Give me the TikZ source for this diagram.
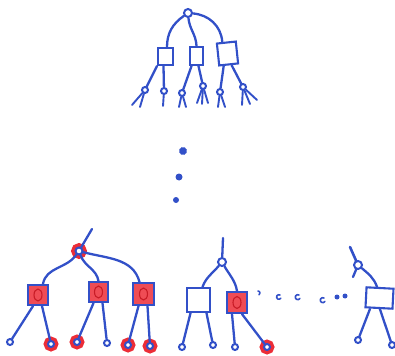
\documentclass[tikz,border=0pt]{standalone}
\usetikzlibrary{calc}
\definecolor{pen}{RGB}{50,80,200}
\definecolor{ink}{RGB}{236,45,55}
\definecolor{inkdark}{RGB}{200,28,38}
\tikzset{
  stroke/.style={draw=pen, line width=2.3pt, line cap=round, line join=round},
  hub/.style={circle, draw=pen, line width=2pt, minimum size=8pt, inner sep=0pt, fill=white},
  leaf/.style={circle, draw=pen, line width=2pt, minimum size=6pt, inner sep=0pt, fill=white},
  redleaf/.style={leaf, fill=white, preaction={fill=ink, draw=ink, line width=8.5pt}},
  redhub/.style={hub, minimum size=7pt, preaction={fill=ink, draw=ink, line width=8.5pt}},
  nodebox/.style={rectangle, draw=pen, line width=2.1pt, inner sep=0pt, fill=white},
  redbox/.style={nodebox, fill=ink!85},
  scribble/.style={draw=inkdark, line width=1.1pt},
  dot/.style={circle, fill=pen, inner sep=0pt, minimum size=6pt},
}
\begin{document}
\begin{tikzpicture}[x=1pt, y=-1pt]
\useasboundingbox (0,0) rectangle (395,355);

% ---------- upper tree ----------
\node[hub] (r) at (188,13) {};
\node[nodebox, minimum width=15pt, minimum height=17pt] (b1) at (165.5,56.5) {};
\node[nodebox, minimum width=13pt, minimum height=18pt] (b2) at (196.5,56) {};
\node[nodebox, minimum width=19pt, minimum height=22pt, rotate=6] (b3) at (227.5,53.5) {};

\draw[stroke] (r) to[out=215, in=90] ([xshift=1.5pt]b1.north);
\draw[stroke] (r) to[out=-85, in=92] (b2.north);
\draw[stroke] (r) to[out=-5, in=95] ([xshift=-4pt]b3.north);

\node[leaf] (l1) at (145,90) {};
\node[leaf] (l2) at (164,91) {};
\node[leaf] (l3) at (182,93) {};
\node[leaf] (l4) at (203,86) {};
\node[leaf] (l5) at (220,92) {};
\node[leaf] (l6) at (243,87) {};

\draw[stroke] (b1.south west) -- (l1);
\draw[stroke] ([xshift=-2pt]b1.south) -- (l2);
\draw[stroke] ([xshift=-5pt]b2.south) -- (l3);
\draw[stroke] ([xshift=2pt]b2.south) -- (l4);
\draw[stroke] ([xshift=-5pt]b3.south) -- (l5);
\draw[stroke] ([xshift=3pt]b3.south) -- (l6);

% fanned ends below the upper leaves
\coordinate (f1a) at (132,105); \coordinate (f1b) at (140,107);
\coordinate (f2a) at (163,106);
\coordinate (f3a) at (179,107); \coordinate (f3b) at (186,107);
\coordinate (f4a) at (197,103); \coordinate (f4b) at (202,104); \coordinate (f4c) at (208,103);
\coordinate (f5a) at (218,107); \coordinate (f5b) at (225,107);
\coordinate (f6a) at (242,105); \coordinate (f6b) at (250,104); \coordinate (f6c) at (257,100);
\foreach \a/\b in {l1/f1a, l1/f1b, l2/f2a, l3/f3a, l3/f3b, l4/f4a, l4/f4b, l4/f4c,
                   l5/f5a, l5/f5b, l6/f6a, l6/f6b, l6/f6c}
  \draw[stroke, line width=1.9pt] (\a) -- (\b);

% ---------- vertical ellipsis ----------
\node[dot, minimum width=6pt, minimum height=8pt, rotate=20] (v1) at (183,151) {};
\node[dot, minimum width=6pt, minimum height=7pt] (v2) at (179,177) {};
\node[dot] (v3) at (176,200) {};

% ---------- lower left tree ----------
\node[redhub] (s) at (79,251) {};
\coordinate (st) at (92,229);
\draw[stroke] (s) -- (st);

\node[redbox, minimum width=20pt, minimum height=20pt] (c1) at (38,295) {};
\node[redbox, minimum width=19pt, minimum height=20pt] (c2) at (98.5,292) {};
\node[redbox, minimum width=21pt, minimum height=22pt] (c3) at (143.5,294) {};
\foreach \c in {c1, c2, c3}
  \draw[scribble] (\c.center) ellipse [x radius=4pt, y radius=6pt];

\draw[stroke] (s) to[out=235, in=80] ([xshift=5pt]c1.north);
\draw[stroke] (s) to[out=-70, in=100] (c2.north);
\draw[stroke] (s) to[out=-15, in=105] ([xshift=-4pt]c3.north);

\node[leaf] (m1) at (10,342) {};
\node[redleaf] (m2) at (51,344) {};
\node[redleaf] (m3) at (77,342) {};
\node[leaf] (m4) at (107,343) {};
\node[redleaf] (m5) at (128,345) {};
\node[redleaf] (m6) at (150,346) {};

\draw[stroke] ([xshift=-5pt]c1.south) -- (m1);
\draw[stroke] ([xshift=4pt]c1.south) -- (m2);
\draw[stroke] ([xshift=-5pt]c2.south) -- (m3);
\draw[stroke] ([xshift=4pt]c2.south) -- (m4);
\draw[stroke] ([xshift=-5pt]c3.south) -- (m5);
\draw[stroke] ([xshift=4pt]c3.south) -- (m6);

% ---------- lower middle tree ----------
\node[hub] (t) at (222,262) {};
\coordinate (tt) at (223,238);
\draw[stroke] (t) -- (tt);

\node[nodebox, minimum width=23pt, minimum height=24pt] (d1) at (198.5,300) {};
\node[redbox, minimum width=20pt, minimum height=21pt] (d2) at (237,302.5) {};
\draw[scribble] (d2.center) ellipse [x radius=4pt, y radius=6pt];

\draw[stroke] (t) to[out=230, in=70] ([xshift=4pt]d1.north);
\draw[stroke] (t) to[out=-60, in=100] (d2.north);

\node[leaf] (n1) at (182,347) {};
\node[leaf] (n2) at (213,345) {};
\node[leaf] (n3) at (235,347) {};
\node[redleaf] (n4) at (267,347) {};

\draw[stroke] ([xshift=-8pt]d1.south) -- (n1);
\draw[stroke] ([xshift=8pt]d1.south) -- (n2);
\draw[stroke] ([xshift=-5pt]d2.south) -- (n3);
\draw[stroke] ([xshift=5pt]d2.south) -- (n4);

% ---------- horizontal ellipsis ----------
\draw[stroke, line width=1.6pt] (258,291) arc[start angle=90, end angle=-60, radius=2pt];
\draw[stroke, line width=1.6pt] (280,295) arc[start angle=60, end angle=330, radius=2.3pt];
\draw[stroke, line width=1.6pt] (299,295) arc[start angle=60, end angle=330, radius=2.5pt];
\draw[stroke, line width=1.6pt] (324,298) arc[start angle=60, end angle=330, radius=2.5pt];
\node[dot, minimum size=5pt] (h1) at (337,297) {};
\node[dot, minimum size=5pt] (h2) at (345,296) {};

% ---------- lower right tree ----------
\node[hub] (u) at (358,265) {};
\coordinate (ut) at (350,247);
\coordinate (uk) at (353,277);
\draw[stroke, line width=2.6pt] (u) -- (ut);
\draw[stroke] (u) -- (uk);

\node[nodebox, minimum width=27pt, minimum height=20pt, rotate=-3] (e1) at (379.5,298) {};
\draw[stroke] (u) to[out=-40, in=110] ([xshift=-3pt]e1.north);

\node[leaf] (o1) at (358,340) {};
\node[leaf] (o2) at (392,345) {};
\draw[stroke] ([xshift=-9pt]e1.south) -- (o1);
\draw[stroke] ([xshift=1pt]e1.south) -- (o2);
\end{tikzpicture}
\end{document}
